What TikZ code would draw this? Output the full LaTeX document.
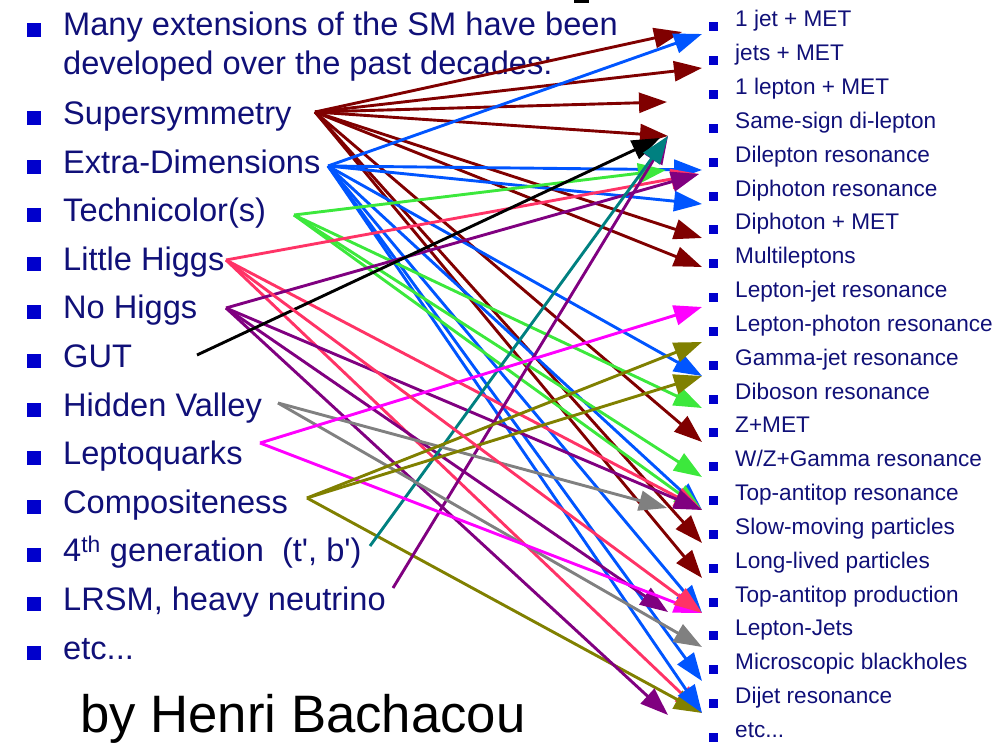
\documentclass[tikz,border=0pt]{standalone}
\usepackage{fontspec}
\setmainfont{Liberation Sans}
\usetikzlibrary{arrows.meta}
\definecolor{navy}{RGB}{16,16,120}
\definecolor{bul}{RGB}{0,0,204}
\definecolor{dred}{RGB}{128,0,0}
\definecolor{ablue}{RGB}{0,85,255}
\definecolor{agreen}{RGB}{60,232,60}
\definecolor{ared}{RGB}{255,51,102}
\definecolor{apurple}{RGB}{128,0,128}
\definecolor{agray}{RGB}{128,128,128}
\definecolor{amag}{RGB}{255,0,255}
\definecolor{aolive}{RGB}{128,128,0}
\definecolor{ateal}{RGB}{0,128,128}
\newcommand{\myetc}{etc...}
\begin{document}
\begin{tikzpicture}[x=1pt,y=-1pt,
  lbul/.style={fill=bul,inner sep=0pt,minimum size=14pt},
  rbul/.style={fill=bul,inner sep=0pt,minimum size=9pt},
  ltxt/.style={anchor=base west,inner sep=0pt,text=navy,font=\fontsize{32.6}{39}\selectfont},
  rtxt/.style={anchor=base west,inner sep=0pt,text=navy,font=\fontsize{22.6}{27}\selectfont},
  arr/.style={line width=2.9pt,-{Triangle[length=28pt,width=20pt]}},
]
\useasboundingbox (0,0) rectangle (1001,743);
\fill (574,0) rectangle (589,3);

% left list
\node[lbul] (lb0) at (34,30) {};
\node[ltxt] (l0) at (63,36) {Many extensions of the SM have been};
\node[ltxt] (l0b) at (63,75) {developed over the past decades:};
\foreach \t/\n [count=\k from 0] in {Supersymmetry/SUSY, Extra-Dimensions/ED, Technicolor(s)/TC, Little Higgs/LH, No Higgs/NH, GUT/GUT, Hidden Valley/HV, Leptoquarks/LQ, Compositeness/CO, {4\textsuperscript{th} generation\ \ (t\textquotesingle, b\textquotesingle)}/G4, {LRSM, heavy neutrino}/LR, \myetc/ETC}{
  \node[lbul] (lb\n) at (34,{118+48.6*\k}) {};
  \node[ltxt] (l\n) at (63,{124.5+48.6*\k}) {\t};
}
\node[anchor=base west,inner sep=0pt,font=\fontsize{52.7}{60}\selectfont] (author) at (80,732) {by Henri Bachacou};

% right list
\foreach \t [count=\i from 0] in {1 jet + MET, jets + MET, 1 lepton + MET, Same-sign di-lepton, Dilepton resonance, Diphoton resonance, Diphoton + MET, Multileptons, Lepton-jet resonance, Lepton-photon resonance, Gamma-jet resonance, Diboson resonance, Z+MET, W/Z+Gamma resonance, Top-antitop resonance, Slow-moving particles, Long-lived particles, Top-antitop production, Lepton-Jets, Microscopic blackholes, Dijet resonance, \myetc}{
  \node[rbul] (rb\i) at (713.5,{27+33.83*\i}) {};
  \node[rtxt] (r\i) at (735,{27+33.83*\i}) {\t};
}

% sources
\coordinate (sSUSY) at (315,112);
\coordinate (sED) at (328,166);
\coordinate (sTC) at (294,215);
\coordinate (sLH) at (226,260);
\coordinate (sNH) at (226,308);
\coordinate (sGUT) at (197,355);
\coordinate (sHV) at (278,403);
\coordinate (sLQ) at (260,443);
\coordinate (sCO) at (307,498);
\coordinate (sG4) at (370,546);
\coordinate (sLR) at (393,588);
% targets
\coordinate (t1a) at (682,32);
\coordinate (t1b) at (702,34);
\coordinate (t2) at (702,68);
\coordinate (t3) at (667,102);
\coordinate (t4) at (668,136);
\coordinate (t4g) at (660,138);
\coordinate (t5) at (702,170);
\coordinate (t5g) at (666,170);
\coordinate (t5p) at (699,174);
\coordinate (t6) at (702,204);
\coordinate (t7) at (702,238);
\coordinate (t8) at (702,267);
\coordinate (t9) at (702,307);
\coordinate (t10) at (702,342);
\coordinate (t11) at (702,376);
\coordinate (t12) at (702,408);
\coordinate (t13) at (702,442);
\coordinate (t14) at (702,477);
\coordinate (t15) at (702,510);
\coordinate (t15g) at (667,508);
\coordinate (t16) at (702,543);
\coordinate (t17) at (702,578);
\coordinate (t18) at (702,613);
\coordinate (t18p) at (668,612);
\coordinate (t19) at (702,647);
\coordinate (t20) at (702,681);
\coordinate (t21) at (702,713);
\coordinate (t21p) at (668,715);

% arrows
\draw[arr,ared] (sLH) -- (t21);
\draw[arr,aolive] (sCO) -- (t21);
\foreach \t in {t1a,t2,t3,t4,t7,t8,t13,t16,t17}{\draw[arr,dred] (sSUSY) -- (\t);}
\foreach \t in {t1b,t5,t6,t11,t15,t18,t20,t21}{\draw[arr,ablue] (sED) -- (\t);}
\foreach \t in {t5g,t12,t14,t15}{\draw[arr,agreen] (sTC) -- (\t);}
\foreach \t in {t5p,t15}{\draw[arr,ared] (sLH) -- (\t);}
\foreach \t in {t5p,t15,t18p,t21p}{\draw[arr,apurple] (sNH) -- (\t);}
\draw[arr,black] (sGUT) -- (t4g);
\draw[arr,apurple] (sLR) -- (t4);
\draw[arr,ateal] (sG4) -- (t4);
\foreach \t in {t15g,t19}{\draw[arr,agray] (sHV) -- (\t);}
\foreach \t in {t9,t18}{\draw[arr,amag] (sLQ) -- (\t);}
\foreach \t in {t10,t11}{\draw[arr,aolive] (sCO) -- (\t);}
\draw[arr,ared] (sLH) -- (t18);
\end{tikzpicture}
\end{document}
